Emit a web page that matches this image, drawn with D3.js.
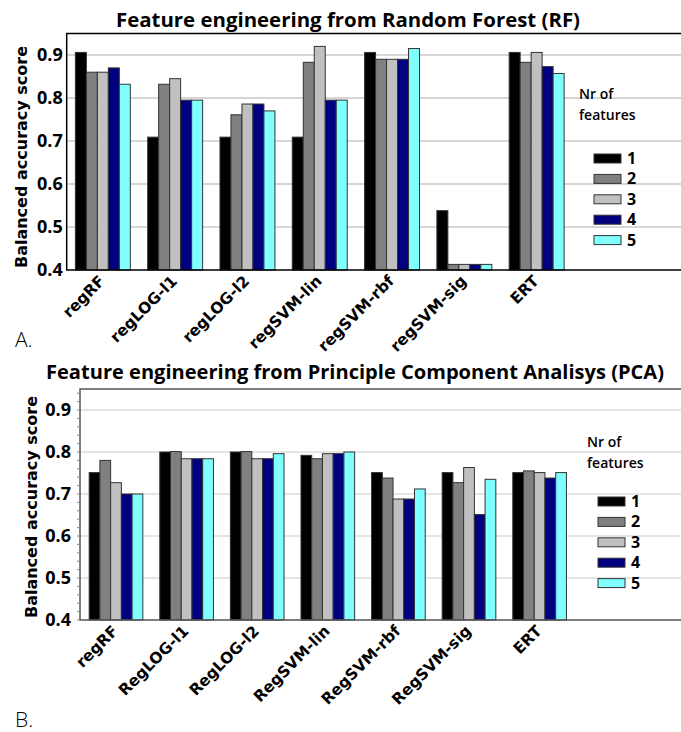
<!DOCTYPE html>
<html>
<head>
  <meta charset="utf-8">
  <title>Feature engineering</title>
  <script src="https://cdn.jsdelivr.net/npm/d3@7"></script>
  <style>
    body { margin: 0; background: #fff; }
    svg { display: block; }
  </style>
</head>
<body>
<svg id="mainsvg" width="681" height="732"></svg>
<script>
  // data
  const nrFeatures = ['1', '2', '3', '4', '5'];
  const colors = ['#000000', '#808080', '#c0c0c0', '#000080', '#80ffff'];
  const yTicks = [0.4, 0.5, 0.6, 0.7, 0.8, 0.9];

  const rfModels = ['regRF', 'regLOG-l1', 'regLOG-l2', 'regSVM-lin', 'regSVM-rbf', 'regSVM-sig', 'ERT'];
  const rfScores = [
    [0.906, 0.860, 0.860, 0.870, 0.832],
    [0.709, 0.832, 0.845, 0.795, 0.795],
    [0.709, 0.761, 0.786, 0.786, 0.770],
    [0.709, 0.883, 0.920, 0.795, 0.795],
    [0.906, 0.890, 0.890, 0.890, 0.915],
    [0.538, 0.413, 0.413, 0.413, 0.413],
    [0.906, 0.883, 0.906, 0.873, 0.857]
  ];

  const pcaModels = ['regRF', 'RegLOG-l1', 'RegLOG-l2', 'RegSVM-lin', 'RegSVM-rbf', 'RegSVM-sig', 'ERT'];
  const pcaScores = [
    [0.751, 0.780, 0.727, 0.700, 0.700],
    [0.800, 0.801, 0.784, 0.784, 0.784],
    [0.800, 0.801, 0.784, 0.784, 0.796],
    [0.792, 0.784, 0.796, 0.796, 0.800],
    [0.751, 0.738, 0.688, 0.688, 0.712],
    [0.751, 0.727, 0.763, 0.651, 0.735],
    [0.751, 0.755, 0.751, 0.738, 0.751]
  ];

  const svg = d3.select('#mainsvg');
  const tickFont = '"DejaVu Sans", Verdana, sans-serif';
  const headFont = '"Open Sans", "Noto Sans", sans-serif';

  function drawPanel(opt) {
    const g = svg.append('g');
    const x = d3.scaleBand()
      .domain(opt.models)
      .range([opt.left, opt.left + opt.step * (opt.models.length - 0.24 + 2 * opt.padOuter)])
      .paddingInner(0.24)
      .paddingOuter(opt.padOuter);
    const xs = d3.scaleBand().domain(nrFeatures).range([0, x.bandwidth()]);
    const y = d3.scaleLinear().domain([0.4, 0.95]).range([opt.bottom, opt.top]);
    const right = 700;

    // grid
    g.selectAll('.grid').data(yTicks.slice(1)).join('line')
      .attr('x1', opt.left).attr('x2', right)
      .attr('y1', d => y(d)).attr('y2', d => y(d))
      .attr('stroke', opt.gridColor).attr('stroke-width', 1.5);

    // bars
    const groups = g.selectAll('.grp').data(opt.models).join('g')
      .attr('transform', d => `translate(${x(d)},0)`);
    groups.selectAll('rect')
      .data((d, i) => opt.scores[i].map((v, j) => ({ key: nrFeatures[j], v: v, c: colors[j] })))
      .join('rect')
      .attr('x', d => xs(d.key))
      .attr('y', d => y(d.v))
      .attr('width', xs.bandwidth())
      .attr('height', d => y(0.4) - y(d.v))
      .attr('fill', d => d.c)
      .attr('stroke', '#333')
      .attr('stroke-width', 1);

    // frame
    g.append('path')
      .attr('d', `M${right},${opt.top}H${opt.left}V${opt.bottom}H${right}`)
      .attr('fill', 'none')
      .attr('stroke', opt.frameColor)
      .attr('stroke-width', opt.frameWidth);

    // minor ticks on y
    if (opt.minor) {
      g.selectAll('.mt').data(d3.range(0.4, 0.951, 0.02)).join('line')
        .attr('x1', opt.left - 3).attr('x2', opt.left)
        .attr('y1', d => y(d)).attr('y2', d => y(d))
        .attr('stroke', '#888').attr('stroke-width', 1);
    }

    // y tick labels
    g.selectAll('.yl').data(yTicks).join('text')
      .attr('x', opt.left - opt.labelGap)
      .attr('y', d => y(d))
      .attr('dy', '0.36em')
      .attr('text-anchor', 'end')
      .attr('font-family', headFont)
      .attr('font-weight', 'bold')
      .attr('font-size', 18)
      .text(d => d.toFixed(1));

    // x tick labels
    g.selectAll('.xl').data(opt.models).join('text')
      .attr('transform', d => `translate(${x(d) + x.bandwidth() / 2 + 3},${opt.bottom + 12}) rotate(-45)`)
      .attr('text-anchor', 'end')
      .attr('font-family', tickFont)
      .attr('font-weight', 'bold')
      .attr('font-size', 15.5)
      .text(d => d);

    // y title
    g.append('text')
      .attr('transform', `translate(${opt.yTitleX},${opt.yTitleY}) rotate(-90)`)
      .attr('text-anchor', 'middle')
      .attr('font-family', tickFont)
      .attr('font-weight', 'bold')
      .attr('font-size', 16)
      .text('Balanced accuracy score');

    // title
    g.append('text')
      .attr('x', opt.titleX)
      .attr('y', opt.titleY)
      .attr('font-family', headFont)
      .attr('font-weight', 'bold')
      .attr('font-size', 19)
      .attr('textLength', opt.titleLen)
      .attr('lengthAdjust', 'spacingAndGlyphs')
      .text(opt.title);

    // legend
    const lg = g.append('g');
    lg.append('text').attr('x', opt.legX).attr('y', opt.legY)
      .attr('font-family', headFont).attr('font-weight', 600).attr('font-size', 14)
      .text('Nr of');
    lg.append('text').attr('x', opt.legX).attr('y', opt.legY + 21)
      .attr('font-family', headFont).attr('font-weight', 600).attr('font-size', 14)
      .text('features');
    const items = lg.selectAll('.li').data(nrFeatures).join('g')
      .attr('transform', (d, i) => `translate(${opt.swX},${opt.swY + i * 20.4})`);
    items.append('rect')
      .attr('width', 27).attr('height', 9)
      .attr('fill', (d, i) => colors[i])
      .attr('stroke', '#333').attr('stroke-width', 1);
    items.append('text')
      .attr('x', 33).attr('y', 10)
      .attr('font-family', headFont).attr('font-weight', 'bold').attr('font-size', 16)
      .text(d => d);

    // panel letter
    g.append('text')
      .attr('x', 15).attr('y', opt.letterY)
      .attr('font-family', headFont).attr('font-weight', 300).attr('font-size', 21)
      .text(opt.letter);
  }

  drawPanel({
    models: rfModels, scores: rfScores,
    left: 66.7, step: 72.3, padOuter: 0.12,
    top: 33.5, bottom: 270,
    gridColor: '#c8c8c8', frameColor: '#000', frameWidth: 1.5,
    minor: false, labelGap: 4,
    yTitleX: 27, yTitleY: 157,
    title: 'Feature engineering from Random Forest (RF)', titleX: 116, titleY: 27, titleLen: 464,
    legX: 579, legY: 99, swX: 594, swY: 154,
    letter: 'A.', letterY: 347
  });

  drawPanel({
    models: pcaModels, scores: pcaScores,
    left: 80, step: 70.6, padOuter: 0.13,
    top: 389, bottom: 620,
    gridColor: '#dcdcdc', frameColor: '#555', frameWidth: 1.5,
    minor: true, labelGap: 9,
    yTitleX: 37, yTitleY: 507,
    title: 'Feature engineering from Principle Component Analisys (PCA)', titleX: 46, titleY: 379, titleLen: 618,
    legX: 587, legY: 447, swX: 598, swY: 497,
    letter: 'B.', letterY: 727
  });
</script>
</body>
</html>
